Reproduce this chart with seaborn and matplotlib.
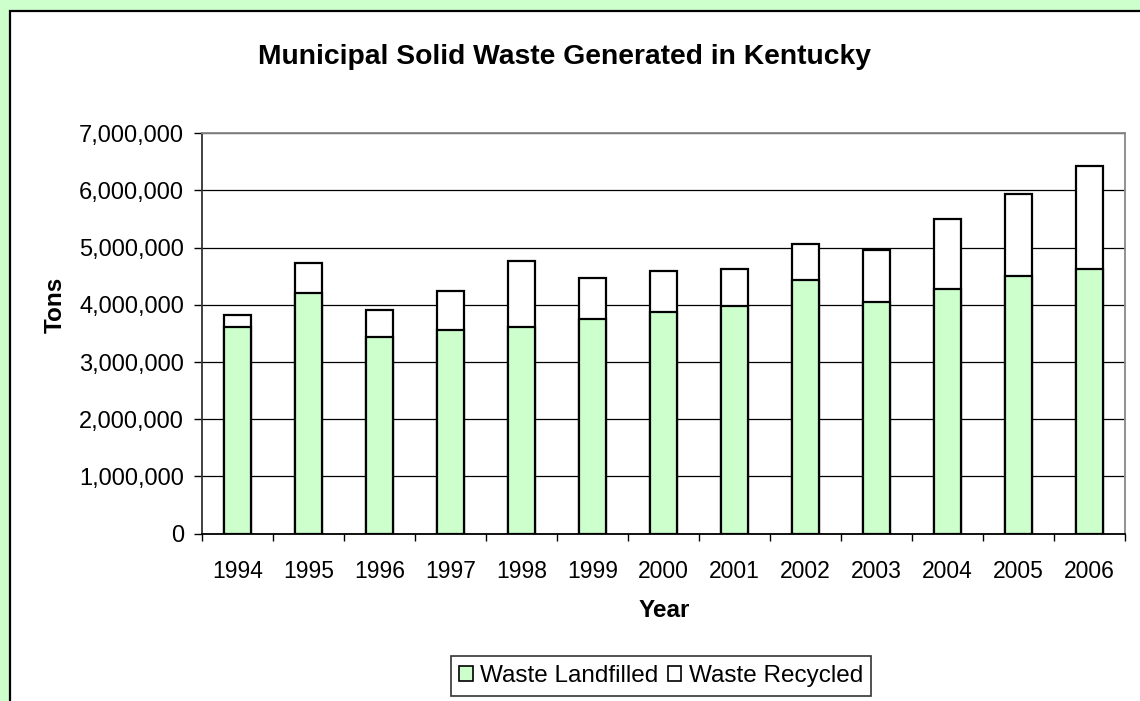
import matplotlib
matplotlib.use("Agg")
import matplotlib.pyplot as plt
from matplotlib.patches import Rectangle, Patch
from matplotlib.ticker import FuncFormatter, FixedLocator
import seaborn as sns
import pandas as pd

# Kentucky municipal solid waste, tons per year
years = ["1994", "1995", "1996", "1997", "1998", "1999", "2000",
         "2001", "2002", "2003", "2004", "2005", "2006"]
landfilled = [3620000, 4210000, 3430000, 3560000, 3620000, 3750000, 3880000,
              3985000, 4430000, 4050000, 4280000, 4500000, 4630000]
recycled = [200000, 515000, 485000, 680000, 1140000, 720000, 720000,
            645000, 630000, 910000, 1225000, 1430000, 1790000]

series_names = ["Waste Landfilled", "Waste Recycled"]
green = "#ccffcc"

df = pd.DataFrame({"Year": years, "Landfilled": landfilled, "Recycled": recycled})
df["Total"] = df["Landfilled"] + df["Recycled"]

sns.set_theme(style="white")
plt.rcParams["font.family"] = ["Liberation Sans", "DejaVu Sans"]

W, H = 1140, 701
fig = plt.figure(figsize=(W / 100, H / 100), dpi=100)
fig.patch.set_facecolor(green)
# white chart area with a dark frame, inset from the green border
fig.patches.append(Rectangle((10 / W, -0.05), 1.2, 1 - 11 / H + 0.05,
                             transform=fig.transFigure, facecolor="white",
                             edgecolor="black", linewidth=1.6, zorder=-5))

ax = fig.add_axes([202 / W, 1 - 533.6 / H, (1125 - 202) / W, (533.6 - 133.3) / H])
ax.set_zorder(2)
ax.set_facecolor("white")

bar_w = 0.39
# totals first (white cap = recycled), then landfilled portion on top
sns.barplot(data=df, x="Year", y="Total", color="white", width=bar_w,
            edgecolor="black", linewidth=1.6, saturation=1, ax=ax, zorder=3)
sns.barplot(data=df, x="Year", y="Landfilled", color=green, width=bar_w,
            edgecolor="black", linewidth=1.6, saturation=1, ax=ax, zorder=4)

ax.set_xlim(-0.5, len(years) - 0.5)
ax.set_ylim(0, 7000000)
ax.set_yticks(range(0, 7000001, 1000000))
ax.yaxis.set_major_formatter(FuncFormatter(lambda v, p: f"{int(v):,}"))
ax.yaxis.grid(True, color="black", linewidth=0.9, zorder=1)
ax.set_axisbelow(True)

ax.tick_params(axis="y", which="major", direction="out", length=6, width=1,
               color="black", pad=7, labelsize=17, left=True)
ax.xaxis.set_minor_locator(FixedLocator([i - 0.5 for i in range(len(years) + 1)]))
ax.tick_params(axis="x", which="major", length=0, pad=19, labelsize=16.5)
ax.tick_params(axis="x", which="minor", direction="out", length=5, width=1,
               color="black", bottom=True)
for lab in ax.get_xticklabels() + ax.get_yticklabels():
    lab.set_color("black")

ax.spines["left"].set_color("#333333")
ax.spines["bottom"].set_color("black")
ax.spines["top"].set_color("#888888")
ax.spines["right"].set_color("#888888")
for s in ax.spines.values():
    s.set_linewidth(1.3)
    s.set_visible(True)

ax.set_xlabel("Year", fontsize=17.5, fontweight="bold", color="black")
ax.set_ylabel("Tons", fontsize=17.5, fontweight="bold", color="black")
ax.xaxis.set_label_coords(0.5005, -0.163)
ax.yaxis.set_label_coords(-0.146, 0.571)

fig.text(564 / W, 1 - 57 / H, "Municipal Solid Waste Generated in Kentucky",
         ha="center", va="center", fontsize=20.3, fontweight="bold", color="black")

handles = [Patch(facecolor=green, edgecolor="black", linewidth=1.2),
           Patch(facecolor="white", edgecolor="black", linewidth=1.2)]
leg = fig.legend(handles, series_names, ncol=2, loc="center",
                 bbox_to_anchor=(661 / W, 1 - 676 / H), fontsize=17.5,
                 frameon=True, fancybox=False, handlelength=0.55, handleheight=0.55,
                 handletextpad=0.3, columnspacing=0.4, borderpad=0.35)
leg.get_frame().set_edgecolor("black")
leg.get_frame().set_linewidth(1.2)
for t in leg.get_texts():
    t.set_color("black")

fig.savefig("out.png", dpi=100, facecolor=fig.get_facecolor())
